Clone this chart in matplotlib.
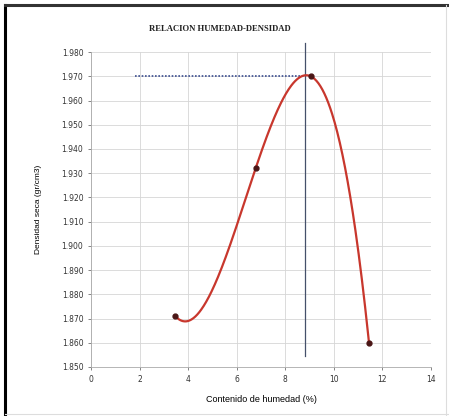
import numpy as np
import matplotlib.pyplot as plt

# ensayo proctor: humedad (%) vs densidad seca (gr/cm3)
humedad = [3.47, 6.78, 9.05, 11.45]
densidad = [1.871, 1.932, 1.970, 1.860]

hum_optima = 8.8
dens_max = 1.970
x_ticks = [0, 2, 4, 6, 8, 10, 12, 14]
y_ticks = [1.85, 1.86, 1.87, 1.88, 1.89, 1.90, 1.91, 1.92, 1.93, 1.94, 1.95, 1.96, 1.97, 1.98]

fig = plt.figure(figsize=(4.49, 4.16), dpi=100)
ax = fig.add_axes([0.2027, 0.1178, 0.757, 0.757])

# frame of the scanned sheet
fig.add_artist(plt.Line2D([0.011, 0.011], [0.0, 0.988], color='black', lw=2.2))
fig.add_artist(plt.Line2D([0.011, 1.0], [0.988, 0.988], color='#333333', lw=2.2))
fig.add_artist(plt.Line2D([0.993, 0.993], [0.0, 0.988], color='#dddddd', lw=0.8))
fig.add_artist(plt.Line2D([0.011, 1.0], [0.006, 0.006], color='#dddddd', lw=0.8))

# polynomial trendline (order 3) through the points
coef = np.polyfit(humedad, densidad, 3)
xs = np.linspace(min(humedad), max(humedad), 300)
ax.plot(xs, np.polyval(coef, xs), color='#c8372d', lw=1.6, zorder=3)
ax.plot(humedad, densidad, 'o', color='#4a1616', ms=3.5, zorder=4)

# optimum lines
ax.plot([1.8, hum_optima], [dens_max, dens_max], color='#3b4d8f', lw=1.2, ls=(0, (1, 1)), zorder=2)
ax.plot([hum_optima, hum_optima], [1.8545, 1.9837], color='#45506a', lw=0.9, zorder=2, clip_on=False)

ax.set_xlim(0, 14)
ax.set_ylim(1.85, 1.98)
ax.set_xticks(x_ticks)
ax.set_yticks(y_ticks)
ax.set_yticklabels(['%.3f' % v for v in y_ticks])
ax.tick_params(labelsize=5.5, colors='#555555', length=2, width=0.5, labelcolor='#333333')
ax.grid(True, color='#d6d6d6', lw=0.6)
ax.set_axisbelow(True)
for s in ['top', 'right']:
    ax.spines[s].set_visible(False)
for s in ['left', 'bottom']:
    ax.spines[s].set_color('#aaaaaa')
    ax.spines[s].set_linewidth(0.6)

ax.set_xlabel('Contenido de humedad (%)', fontsize=6.5, family='Liberation Sans', labelpad=8)
ax.set_ylabel('Densidad seca (gr/cm3)', fontsize=6, family='Liberation Sans', labelpad=14)
fig.text(0.49, 0.925, 'RELACION HUMEDAD-DENSIDAD', fontsize=6.2, family='Liberation Serif',
         weight='bold', ha='center', color='#222222')

plt.savefig('out.png', dpi=100)
